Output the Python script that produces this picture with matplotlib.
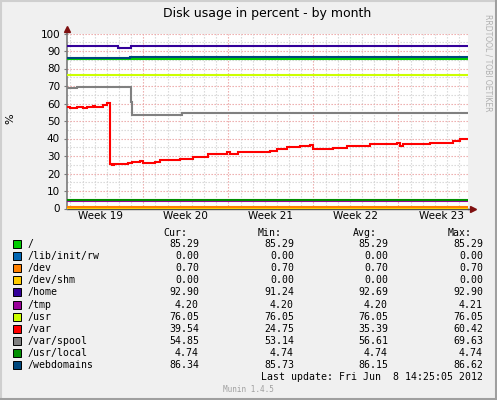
import numpy as np
import matplotlib.pyplot as plt
from matplotlib.patches import Rectangle
from matplotlib.lines import Line2D

# Data (x = days since start of the graph window)
day_end = 33.0
week_starts = [6.28, 13.28, 20.28, 27.28]
week_labels = ['Week 19', 'Week 20', 'Week 21', 'Week 22', 'Week 23']

names = ['/', '/lib/init/rw', '/dev', '/dev/shm', '/home', '/tmp', '/usr',
         '/var', '/var/spool', '/usr/local', '/webdomains']
colors = ['#00CC00', '#0066B3', '#FF8000', '#FFCC00', '#330099', '#990099',
          '#CCFF00', '#FF0000', '#808080', '#008F00', '#00487D']
cur = ['85.29', '0.00', '0.70', '0.00', '92.90', '4.20', '76.05', '39.54', '54.85', '4.74', '86.34']
vmin = ['85.29', '0.00', '0.70', '0.00', '91.24', '4.20', '76.05', '24.75', '53.14', '4.74', '85.73']
vavg = ['85.29', '0.00', '0.70', '0.00', '92.69', '4.20', '76.05', '35.39', '56.61', '4.74', '86.15']
vmax = ['85.29', '0.00', '0.70', '0.00', '92.90', '4.21', '76.05', '60.42', '69.63', '4.74', '86.62']

root_x, root_y = [0, 33], [85.29, 85.29]
libinit_x, libinit_y = [0, 33], [0.0, 0.0]
dev_x, dev_y = [0, 33], [0.70, 0.70]
shm_x, shm_y = [0, 33], [0.0, 0.0]
home_x = [0, 4.2, 5.27, 30.7, 33]
home_y = [92.6, 91.5, 92.6, 92.9, 92.9]
tmp_x, tmp_y = [0, 33], [4.20, 4.20]
usr_x, usr_y = [0, 33], [76.05, 76.05]
var_x = [0, 0.25, 0.82, 1.32, 1.65, 2.14, 2.31, 2.96, 3.29, 3.54, 3.7, 3.9,
         5.02, 5.35, 6.01, 6.26, 7.25, 7.66, 9.31, 10.38, 10.95, 11.61, 13.18,
         13.42, 14.08, 15.07, 16.14, 16.72, 17.29, 18.12, 19.19, 20.01, 20.26,
         21.91, 23.06, 24.95, 27.18, 27.42, 27.67, 29.89, 31.79, 32.36, 33]
var_y = [58.2, 57.6, 58.1, 57.6, 58.2, 58.5, 58.2, 59.1, 60.4, 25.4, 24.75, 25.3,
         26.2, 26.8, 27.4, 25.8, 26.8, 27.5, 28.1, 29.2, 29.6, 31.0, 32.5,
         31.1, 32.1, 32.5, 32.1, 32.9, 33.8, 35.3, 35.9, 36.1, 34.2,
         34.8, 35.7, 36.9, 37.6, 35.9, 37.0, 37.6, 38.7, 39.9, 39.9]
spool_x = [0, 0.82, 5.25, 5.33, 9.45, 29.9, 33]
spool_y = [69.1, 69.63, 61.0, 53.5, 54.3, 54.85, 54.85]
usrloc_x, usrloc_y = [0, 33], [4.74, 4.74]
web_x = [0, 5.2, 32.5, 33]
web_y = [85.8, 86.34, 86.62, 86.62]

series = [(root_x, root_y), (libinit_x, libinit_y), (dev_x, dev_y), (shm_x, shm_y),
          (home_x, home_y), (tmp_x, tmp_y), (usr_x, usr_y), (var_x, var_y),
          (spool_x, spool_y), (usrloc_x, usrloc_y), (web_x, web_y)]

W, H = 497, 400
def fx(px):
    return px / W
def fy(py):
    return 1 - py / H

fig = plt.figure(figsize=(4.97, 4.0), dpi=100)
fig.patch.set_facecolor('#f0f0f0')

# frame around the picture
fig.add_artist(Line2D([0, 1], [fy(0.5), fy(0.5)], color='#cfcfcf', lw=1.5))
fig.add_artist(Line2D([fx(0.5), fx(0.5)], [0, 1], color='#cfcfcf', lw=1.5))
fig.add_artist(Line2D([0, 1], [fy(398.5), fy(398.5)], color='#9f9f9f', lw=2.2))
fig.add_artist(Line2D([fx(495.5), fx(495.5)], [0, 1], color='#9f9f9f', lw=2.2))

ax = fig.add_axes([fx(67), fy(208.5), 401 / W, 175 / H])
ax.set_facecolor('white')
ax.set_xlim(0, day_end)
ax.set_ylim(0, 100)

# grid
for d in np.arange(week_starts[0] - 6, day_end, 1.0):
    if any(abs(d - w) < 1e-6 for w in week_starts):
        continue
    ax.axvline(d, color='#d4d4d4', lw=0.8, dashes=(1.2, 1.5), zorder=0)
for w in week_starts:
    ax.axvline(w, color='#eba3a3', lw=0.8, dashes=(1.2, 1.5), zorder=0)
for v in range(5, 100, 10):
    ax.axhline(v, color='#d4d4d4', lw=0.8, dashes=(1.2, 1.5), zorder=0)
for v in range(10, 101, 10):
    ax.axhline(v, color='#eba3a3', lw=0.8, dashes=(1.2, 1.5), zorder=0)

for (xs, ys), c in zip(series, colors):
    ax.plot(xs, ys, color=c, lw=1.5, drawstyle='steps-post', solid_capstyle='butt',
            solid_joinstyle='miter', zorder=3)

for s in ['top', 'right']:
    ax.spines[s].set_visible(False)
ax.spines['left'].set_color('#7a7a7a')
ax.spines['bottom'].set_color('#505050')
ax.spines['left'].set_linewidth(1.2)
ax.spines['bottom'].set_linewidth(1.0)
ax.spines['bottom'].set_zorder(2)

ax.set_yticks(range(0, 101, 10))
ax.set_yticklabels([str(v) for v in range(0, 101, 10)])
ax.set_xticks([])
ax.tick_params(axis='y', length=2, width=0.8, color='#7a7a7a', pad=3, labelsize=7.5)

for i, lab in enumerate(week_labels):
    ax.text(week_starts[0] - 3.5 + 7 * i, -0.045, lab, transform=ax.get_xaxis_transform(),
            ha='center', va='center', fontsize=7.5)

# axis arrows
ax.plot([1, 1.012], [0, 0], transform=ax.transAxes, color='#505050', lw=1.0, clip_on=False)
ax.plot([1.012], [0], transform=ax.transAxes, marker='>', color='#7f1010', ms=4.5, clip_on=False)
ax.plot([0, 0], [1, 1.02], transform=ax.transAxes, color='#7a7a7a', lw=1.2, clip_on=False)
ax.plot([0], [1.025], transform=ax.transAxes, marker='^', color='#7f1010', ms=4.5, clip_on=False)

fig.text(fx(267), fy(14), 'Disk usage in percent - by month', ha='center', va='center', fontsize=9)
fig.text(fx(10), fy(119), '%', rotation=90, ha='center', va='center', fontsize=8)
fig.text(fx(488), fy(63), 'RRDTOOL / TOBI OETIKER', rotation=270, ha='center', va='center',
         fontsize=5.5, color='#b0b0b0')

mono = dict(family='DejaVu Sans Mono', fontsize=7.1, va='center')
for hx, h in zip([163, 258, 353, 448], ['Cur:', 'Min:', 'Avg:', 'Max:']):
    fig.text(fx(hx), fy(233), h, ha='left', **mono)
for i, name in enumerate(names):
    ry = 244.3 + 12.04 * i
    fig.add_artist(Rectangle((fx(13), fy(ry + 4)), 8 / W, 8 / H, transform=fig.transFigure,
                             facecolor=colors[i], edgecolor='black', lw=0.7))
    fig.text(fx(27), fy(ry), name, ha='left', **mono)
    for vx, vals in zip([199, 294, 388, 483], [cur, vmin, vavg, vmax]):
        fig.text(fx(vx), fy(ry), vals[i], ha='right', **mono)
fig.text(fx(483), fy(376.7), 'Last update: Fri Jun  8 14:25:05 2012', ha='right', **mono)
fig.text(fx(248), fy(389), 'Munin 1.4.5', ha='center', va='center', fontsize=5.5,
         color='#a0a0a0', family='DejaVu Sans Mono')

fig.savefig('out.png', dpi=100, facecolor=fig.get_facecolor())
